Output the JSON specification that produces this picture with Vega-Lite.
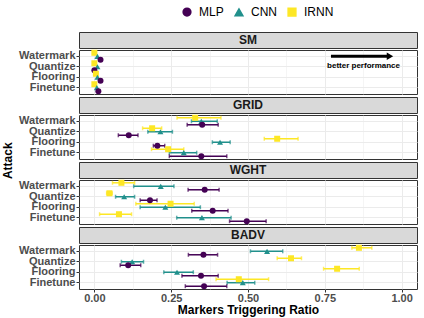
{
  "$schema": "https://vega.github.io/schema/vega-lite/v6.json",
  "padding": {"left": 2, "top": 6, "right": 5, "bottom": 2},
  "config": {
    "font": "Liberation Sans",
    "view": {"stroke": "#333333", "strokeWidth": 1},
    "axis": {"gridColor": "#ebebeb"}
  },
  "title": {"text": "Attack", "orient": "left", "anchor": "middle", "fontSize": 12, "fontWeight": "bold", "color": "#000000", "offset": 3},
  "datasets": {
    "d": [
      {"panel": "SM", "attack": "Watermark", "model": "IRNN", "mean": 0.0},
      {"panel": "SM", "attack": "Watermark", "model": "CNN", "mean": 0.01},
      {"panel": "SM", "attack": "Watermark", "model": "MLP", "mean": 0.02},
      {"panel": "SM", "attack": "Quantize", "model": "IRNN", "mean": 0.0},
      {"panel": "SM", "attack": "Quantize", "model": "CNN", "mean": 0.01},
      {"panel": "SM", "attack": "Quantize", "model": "MLP", "mean": 0.0},
      {"panel": "SM", "attack": "Flooring", "model": "IRNN", "mean": 0.005},
      {"panel": "SM", "attack": "Flooring", "model": "CNN", "mean": 0.01},
      {"panel": "SM", "attack": "Flooring", "model": "MLP", "mean": 0.02},
      {"panel": "SM", "attack": "Finetune", "model": "IRNN", "mean": 0.0},
      {"panel": "SM", "attack": "Finetune", "model": "CNN", "mean": 0.008},
      {"panel": "SM", "attack": "Finetune", "model": "MLP", "mean": 0.013},
      {"panel": "GRID", "attack": "Watermark", "model": "IRNN", "mean": 0.328, "lo": 0.269, "hi": 0.412},
      {"panel": "GRID", "attack": "Watermark", "model": "CNN", "mean": 0.348, "lo": 0.316, "hi": 0.400},
      {"panel": "GRID", "attack": "Watermark", "model": "MLP", "mean": 0.351, "lo": 0.302, "hi": 0.403},
      {"panel": "GRID", "attack": "Quantize", "model": "IRNN", "mean": 0.188, "lo": 0.157, "hi": 0.219},
      {"panel": "GRID", "attack": "Quantize", "model": "CNN", "mean": 0.215, "lo": 0.174, "hi": 0.254},
      {"panel": "GRID", "attack": "Quantize", "model": "MLP", "mean": 0.112, "lo": 0.078, "hi": 0.142},
      {"panel": "GRID", "attack": "Flooring", "model": "IRNN", "mean": 0.595, "lo": 0.553, "hi": 0.663},
      {"panel": "GRID", "attack": "Flooring", "model": "CNN", "mean": 0.409, "lo": 0.384, "hi": 0.442},
      {"panel": "GRID", "attack": "Flooring", "model": "MLP", "mean": 0.205, "lo": 0.192, "hi": 0.229},
      {"panel": "GRID", "attack": "Finetune", "model": "IRNN", "mean": 0.240, "lo": 0.186, "hi": 0.291},
      {"panel": "GRID", "attack": "Finetune", "model": "CNN", "mean": 0.291, "lo": 0.244, "hi": 0.333},
      {"panel": "GRID", "attack": "Finetune", "model": "MLP", "mean": 0.348, "lo": 0.244, "hi": 0.431},
      {"panel": "WGHT", "attack": "Watermark", "model": "IRNN", "mean": 0.088, "lo": 0.059, "hi": 0.131},
      {"panel": "WGHT", "attack": "Watermark", "model": "CNN", "mean": 0.216, "lo": 0.128, "hi": 0.259},
      {"panel": "WGHT", "attack": "Watermark", "model": "MLP", "mean": 0.359, "lo": 0.305, "hi": 0.406},
      {"panel": "WGHT", "attack": "Quantize", "model": "IRNN", "mean": 0.049, "lo": 0.040, "hi": 0.058},
      {"panel": "WGHT", "attack": "Quantize", "model": "CNN", "mean": 0.097, "lo": 0.069, "hi": 0.131},
      {"panel": "WGHT", "attack": "Quantize", "model": "MLP", "mean": 0.181, "lo": 0.149, "hi": 0.204},
      {"panel": "WGHT", "attack": "Flooring", "model": "IRNN", "mean": 0.248, "lo": 0.135, "hi": 0.325},
      {"panel": "WGHT", "attack": "Flooring", "model": "CNN", "mean": 0.231, "lo": 0.149, "hi": 0.345},
      {"panel": "WGHT", "attack": "Flooring", "model": "MLP", "mean": 0.385, "lo": 0.317, "hi": 0.435},
      {"panel": "WGHT", "attack": "Finetune", "model": "IRNN", "mean": 0.080, "lo": 0.017, "hi": 0.121},
      {"panel": "WGHT", "attack": "Finetune", "model": "CNN", "mean": 0.350, "lo": 0.268, "hi": 0.445},
      {"panel": "WGHT", "attack": "Finetune", "model": "MLP", "mean": 0.496, "lo": 0.440, "hi": 0.559},
      {"panel": "BADV", "attack": "Watermark", "model": "IRNN", "mean": 0.861, "lo": 0.838, "hi": 0.903},
      {"panel": "BADV", "attack": "Watermark", "model": "CNN", "mean": 0.562, "lo": 0.508, "hi": 0.613},
      {"panel": "BADV", "attack": "Watermark", "model": "MLP", "mean": 0.355, "lo": 0.306, "hi": 0.401},
      {"panel": "BADV", "attack": "Quantize", "model": "IRNN", "mean": 0.640, "lo": 0.595, "hi": 0.674},
      {"panel": "BADV", "attack": "Quantize", "model": "CNN", "mean": 0.123, "lo": 0.088, "hi": 0.160},
      {"panel": "BADV", "attack": "Quantize", "model": "MLP", "mean": 0.110, "lo": 0.084, "hi": 0.151},
      {"panel": "BADV", "attack": "Flooring", "model": "IRNN", "mean": 0.790, "lo": 0.746, "hi": 0.862},
      {"panel": "BADV", "attack": "Flooring", "model": "CNN", "mean": 0.269, "lo": 0.226, "hi": 0.322},
      {"panel": "BADV", "attack": "Flooring", "model": "MLP", "mean": 0.347, "lo": 0.285, "hi": 0.403},
      {"panel": "BADV", "attack": "Finetune", "model": "IRNN", "mean": 0.470, "lo": 0.396, "hi": 0.567},
      {"panel": "BADV", "attack": "Finetune", "model": "CNN", "mean": 0.483, "lo": 0.432, "hi": 0.522},
      {"panel": "BADV", "attack": "Finetune", "model": "MLP", "mean": 0.357, "lo": 0.296, "hi": 0.431}
    ],
    "arrow": [
      {"attack": "Watermark", "start": 0.77, "end": 0.955, "head": 0.962, "label": "better performance", "labelAt": 0.876, "labelRow": "Quantize"}
    ]
  },
  "resolve": {"scale": {"x": "independent", "y": "independent"}, "axis": {"x": "independent", "y": "independent"}},
  "spacing": 0,
  "vconcat": [
    {
      "width": 338, "height": 16,
      "view": {"fill": "#d9d9d9", "stroke": "#333333"},
      "data": {"values": [{"panel": "SM"}]},
      "mark": {"type": "text", "fontWeight": "bold", "fontSize": 12, "color": "#1a1a1a", "baseline": "middle"},
      "encoding": {"text": {"field": "panel"}}
    },
    {
      "width": 338, "height": 44,
      "layer": [
        {
          "data": {"name": "d"},
          "transform": [{"filter": "datum.panel === 'SM'"}],
          "encoding": {
            "y": {"field": "attack", "type": "nominal", "scale": {"domain": ["Watermark", "Quantize", "Flooring", "Finetune"], "paddingInner": 0, "paddingOuter": 0.1},
              "axis": {"title": null, "labelFontSize": 11, "labelFontWeight": "bold", "labelColor": "#4d4d4d", "labelPadding": 1, "tickSize": 3, "tickColor": "#333333", "domain": false, "grid": true, "bandPosition": 0.5, "labelOverlap": false}},
            "yOffset": {"field": "model", "type": "nominal", "scale": {"domain": ["IRNN", "CNN", "MLP"], "paddingInner": 0, "paddingOuter": 0}},
            "color": {"field": "model", "type": "nominal", "scale": {"domain": ["MLP", "CNN", "IRNN"], "range": ["#440154", "#21908C", "#FDE725"]},
              "legend": {"title": null, "orient": "none", "legendX": 102, "legendY": -26, "direction": "horizontal", "labelFontSize": 12, "symbolSize": 60, "labelColor": "#000000", "labelOffset": 6, "columnPadding": 8}}
          },
          "layer": [
            {"mark": {"type": "point", "filled": true, "opacity": 1, "size": 36},
             "encoding": {
               "x": {"field": "mean", "type": "quantitative", "title": null, "scale": {"domain": [-0.05, 1.05], "nice": false, "zero": false},
                 "axis": {"values": [0, 0.125, 0.25, 0.375, 0.5, 0.625, 0.75, 0.875, 1], "labels": false, "ticks": false, "domain": false, "title": null, "grid": true, "gridWidth": {"condition": {"test": "(datum.value * 4) % 1 !== 0", "value": 0.5}, "value": 1}, "minExtent": 1, "maxExtent": 1}},
               "shape": {"field": "model", "type": "nominal", "scale": {"domain": ["MLP", "CNN", "IRNN"], "range": ["circle", "triangle-up", "square"]},
                 "legend": {"title": null, "orient": "none", "legendX": 102, "legendY": -26, "direction": "horizontal", "labelFontSize": 12, "symbolSize": 60, "labelColor": "#000000", "labelOffset": 6, "columnPadding": 8}}
             }}
          ]
        },
        {
          "data": {"name": "arrow"},
          "mark": {"type": "rule", "strokeWidth": 3, "color": "#000000"},
          "encoding": {"x": {"field": "start", "type": "quantitative", "title": null}, "x2": {"field": "end"}, "y": {"field": "attack", "type": "nominal"}}
        },
        {
          "data": {"name": "arrow"},
          "mark": {"type": "point", "shape": "triangle-right", "filled": true, "opacity": 1, "size": 55, "color": "#000000"},
          "encoding": {"x": {"field": "head", "type": "quantitative", "title": null}, "y": {"field": "attack", "type": "nominal"}}
        },
        {
          "data": {"name": "arrow"},
          "mark": {"type": "text", "fontSize": 8, "fontWeight": "bold", "color": "#000000", "dy": -1},
          "encoding": {"x": {"field": "labelAt", "type": "quantitative", "title": null}, "y": {"field": "labelRow", "type": "nominal"}, "text": {"field": "label"}}
        }
      ]
    },
    {
      "width": 338, "height": 16,
      "view": {"fill": "#d9d9d9", "stroke": "#333333"},
      "data": {"values": [{"panel": "GRID"}]},
      "mark": {"type": "text", "fontWeight": "bold", "fontSize": 12, "color": "#1a1a1a", "baseline": "middle"},
      "encoding": {"text": {"field": "panel"}}
    },
    {
      "width": 338, "height": 44,
      "data": {"name": "d"},
      "transform": [{"filter": "datum.panel === 'GRID'"}],
      "encoding": {
        "y": {"field": "attack", "type": "nominal", "scale": {"domain": ["Watermark", "Quantize", "Flooring", "Finetune"], "paddingInner": 0, "paddingOuter": 0.1},
          "axis": {"title": null, "labelFontSize": 11, "labelFontWeight": "bold", "labelColor": "#4d4d4d", "labelPadding": 1, "tickSize": 3, "tickColor": "#333333", "domain": false, "grid": true, "bandPosition": 0.5, "labelOverlap": false}},
        "yOffset": {"field": "model", "type": "nominal", "scale": {"domain": ["IRNN", "CNN", "MLP"], "paddingInner": 0, "paddingOuter": 0}},
        "color": {"field": "model", "type": "nominal", "scale": {"domain": ["MLP", "CNN", "IRNN"], "range": ["#440154", "#21908C", "#FDE725"]}}
      },
      "layer": [
        {"mark": {"type": "rule", "strokeWidth": 1.5},
         "encoding": {"x": {"field": "lo", "type": "quantitative", "title": null, "scale": {"domain": [-0.05, 1.05], "nice": false, "zero": false},
             "axis": {"values": [0, 0.125, 0.25, 0.375, 0.5, 0.625, 0.75, 0.875, 1], "labels": false, "ticks": false, "domain": false, "title": null, "grid": true, "gridWidth": {"condition": {"test": "(datum.value * 4) % 1 !== 0", "value": 0.5}, "value": 1}, "minExtent": 1, "maxExtent": 1}},
           "x2": {"field": "hi"}}},
        {"mark": {"type": "tick", "thickness": 1.5, "size": 4}, "encoding": {"x": {"field": "lo", "type": "quantitative", "title": null}}},
        {"mark": {"type": "tick", "thickness": 1.5, "size": 4}, "encoding": {"x": {"field": "hi", "type": "quantitative", "title": null}}},
        {"mark": {"type": "point", "filled": true, "opacity": 1, "size": 36},
         "encoding": {"x": {"field": "mean", "type": "quantitative", "title": null},
           "shape": {"field": "model", "type": "nominal", "scale": {"domain": ["MLP", "CNN", "IRNN"], "range": ["circle", "triangle-up", "square"]}}}}
      ]
    },
    {
      "width": 338, "height": 16,
      "view": {"fill": "#d9d9d9", "stroke": "#333333"},
      "data": {"values": [{"panel": "WGHT"}]},
      "mark": {"type": "text", "fontWeight": "bold", "fontSize": 12, "color": "#1a1a1a", "baseline": "middle"},
      "encoding": {"text": {"field": "panel"}}
    },
    {
      "width": 338, "height": 44,
      "data": {"name": "d"},
      "transform": [{"filter": "datum.panel === 'WGHT'"}],
      "encoding": {
        "y": {"field": "attack", "type": "nominal", "scale": {"domain": ["Watermark", "Quantize", "Flooring", "Finetune"], "paddingInner": 0, "paddingOuter": 0.1},
          "axis": {"title": null, "labelFontSize": 11, "labelFontWeight": "bold", "labelColor": "#4d4d4d", "labelPadding": 1, "tickSize": 3, "tickColor": "#333333", "domain": false, "grid": true, "bandPosition": 0.5, "labelOverlap": false}},
        "yOffset": {"field": "model", "type": "nominal", "scale": {"domain": ["IRNN", "CNN", "MLP"], "paddingInner": 0, "paddingOuter": 0}},
        "color": {"field": "model", "type": "nominal", "scale": {"domain": ["MLP", "CNN", "IRNN"], "range": ["#440154", "#21908C", "#FDE725"]}}
      },
      "layer": [
        {"mark": {"type": "rule", "strokeWidth": 1.5},
         "encoding": {"x": {"field": "lo", "type": "quantitative", "title": null, "scale": {"domain": [-0.05, 1.05], "nice": false, "zero": false},
             "axis": {"values": [0, 0.125, 0.25, 0.375, 0.5, 0.625, 0.75, 0.875, 1], "labels": false, "ticks": false, "domain": false, "title": null, "grid": true, "gridWidth": {"condition": {"test": "(datum.value * 4) % 1 !== 0", "value": 0.5}, "value": 1}, "minExtent": 1, "maxExtent": 1}},
           "x2": {"field": "hi"}}},
        {"mark": {"type": "tick", "thickness": 1.5, "size": 4}, "encoding": {"x": {"field": "lo", "type": "quantitative", "title": null}}},
        {"mark": {"type": "tick", "thickness": 1.5, "size": 4}, "encoding": {"x": {"field": "hi", "type": "quantitative", "title": null}}},
        {"mark": {"type": "point", "filled": true, "opacity": 1, "size": 36},
         "encoding": {"x": {"field": "mean", "type": "quantitative", "title": null},
           "shape": {"field": "model", "type": "nominal", "scale": {"domain": ["MLP", "CNN", "IRNN"], "range": ["circle", "triangle-up", "square"]}}}}
      ]
    },
    {
      "width": 338, "height": 16,
      "view": {"fill": "#d9d9d9", "stroke": "#333333"},
      "data": {"values": [{"panel": "BADV"}]},
      "mark": {"type": "text", "fontWeight": "bold", "fontSize": 12, "color": "#1a1a1a", "baseline": "middle"},
      "encoding": {"text": {"field": "panel"}}
    },
    {
      "width": 338, "height": 44,
      "data": {"name": "d"},
      "transform": [{"filter": "datum.panel === 'BADV'"}],
      "encoding": {
        "y": {"field": "attack", "type": "nominal", "scale": {"domain": ["Watermark", "Quantize", "Flooring", "Finetune"], "paddingInner": 0, "paddingOuter": 0.1},
          "axis": {"title": null, "labelFontSize": 11, "labelFontWeight": "bold", "labelColor": "#4d4d4d", "labelPadding": 1, "tickSize": 3, "tickColor": "#333333", "domain": false, "grid": true, "bandPosition": 0.5, "labelOverlap": false}},
        "yOffset": {"field": "model", "type": "nominal", "scale": {"domain": ["IRNN", "CNN", "MLP"], "paddingInner": 0, "paddingOuter": 0}},
        "color": {"field": "model", "type": "nominal", "scale": {"domain": ["MLP", "CNN", "IRNN"], "range": ["#440154", "#21908C", "#FDE725"]}}
      },
      "layer": [
        {"mark": {"type": "rule", "strokeWidth": 1.5},
         "encoding": {"x": {"field": "lo", "type": "quantitative", "title": "Markers Triggering Ratio", "scale": {"domain": [-0.05, 1.05], "nice": false, "zero": false},
             "axis": {"values": [0, 0.125, 0.25, 0.375, 0.5, 0.625, 0.75, 0.875, 1], "labelExpr": "(datum.value * 4) % 1 !== 0 ? '' : format(datum.value, '.2f')", "labelFontSize": 11, "labelFontWeight": "bold", "labelColor": "#4d4d4d", "labelPadding": 0, "tickSize": 3, "tickColor": "#333333", "tickOpacity": {"condition": {"test": "(datum.value * 4) % 1 !== 0", "value": 0}, "value": 1}, "domain": false, "title": "Markers Triggering Ratio", "titleFontSize": 12, "titleFontWeight": "bold", "titleColor": "#000000", "titlePadding": 1, "grid": true, "gridWidth": {"condition": {"test": "(datum.value * 4) % 1 !== 0", "value": 0.5}, "value": 1}, "labelOverlap": false}},
           "x2": {"field": "hi"}}},
        {"mark": {"type": "tick", "thickness": 1.5, "size": 4}, "encoding": {"x": {"field": "lo", "type": "quantitative", "title": "Markers Triggering Ratio"}}},
        {"mark": {"type": "tick", "thickness": 1.5, "size": 4}, "encoding": {"x": {"field": "hi", "type": "quantitative", "title": "Markers Triggering Ratio"}}},
        {"mark": {"type": "point", "filled": true, "opacity": 1, "size": 36},
         "encoding": {"x": {"field": "mean", "type": "quantitative", "title": "Markers Triggering Ratio"},
           "shape": {"field": "model", "type": "nominal", "scale": {"domain": ["MLP", "CNN", "IRNN"], "range": ["circle", "triangle-up", "square"]}}}}
      ]
    }
  ]
}
